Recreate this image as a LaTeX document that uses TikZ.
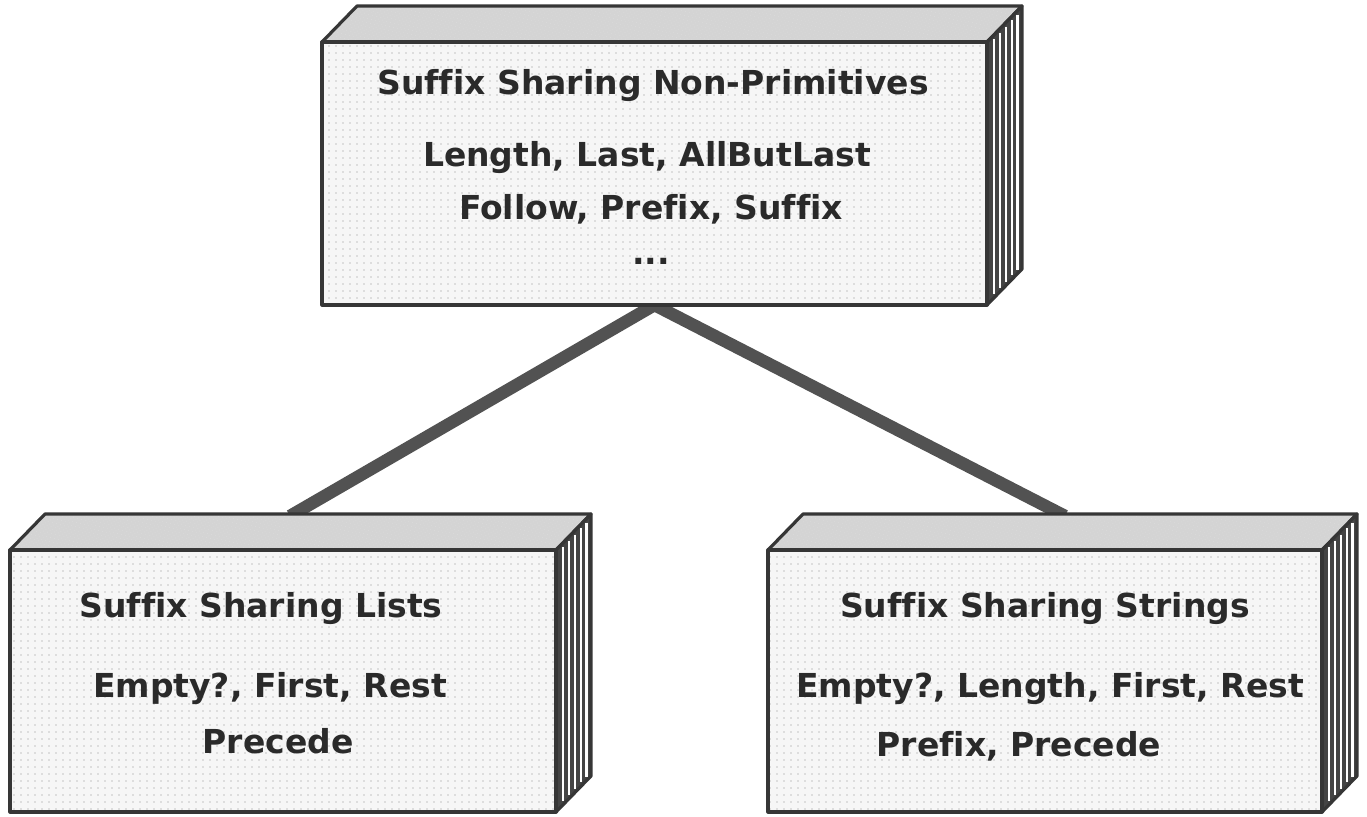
\documentclass[tikz,border=0pt]{standalone}
\usepackage{fontspec}
\setmainfont{DejaVu Sans}[Ligatures=NoCommon]
\usepackage{tikz}
\usetikzlibrary{calc,backgrounds,patterns.meta}
\definecolor{SlabEdge}{HTML}{363636}
\definecolor{SlabFront}{HTML}{F6F6F6}
\definecolor{SlabTop}{HTML}{D4D4D4}
\definecolor{SlabSide}{HTML}{444444}
\definecolor{SlabDots}{HTML}{8A8A8A}
\definecolor{LinkGray}{HTML}{525252}
\definecolor{LabelInk}{HTML}{2A2A2A}
\newcommand\slabdx{35}
\newcommand\slabdy{36}

\begin{document}
\begin{tikzpicture}[x=1pt,y=-1pt,
  edge/.style={draw=SlabEdge,line width=3.2pt,line join=round},
  frontface/.style={edge,preaction={fill=SlabFront},
    pattern={Dots[distance=7pt,radius=0.7pt]},pattern color=SlabDots},
  topface/.style={edge,preaction={fill=SlabTop},
    pattern={Dots[distance=3pt,radius=0.6pt,angle=30]},pattern color=white!85!black},
  sideface/.style={edge,fill=SlabSide},
  stripe/.style={white,line width=2.4pt},
  link/.style={LinkGray,line width=12.5pt},
  caption/.style={anchor=base,inner sep=0pt,text=LabelInk,
    font=\bfseries\fontsize{33}{38}\selectfont}]
  \useasboundingbox (0,0) rectangle (1367,816);

  % three slabs: front face, lid and striped side
  \foreach \name/\xa/\ya/\xb/\yb in {nonprim/322/42/987/305,
      lists/10/550/556/812, strings/768/550/1322/812}{
    \path[topface] (\xa,\ya) -- (\xa+\slabdx,\ya-\slabdy)
      -- (\xb+\slabdx,\ya-\slabdy) -- (\xb,\ya) -- cycle;
    \path[sideface] (\xb,\ya) -- (\xb+\slabdx,\ya-\slabdy)
      -- (\xb+\slabdx,\yb-\slabdy) -- (\xb,\yb) -- cycle;
    \foreach \t in {0.2,0.37,0.54,0.71,0.87}
      \draw[stripe] (\xb+\t*\slabdx,\ya-\t*\slabdy+4) -- (\xb+\t*\slabdx,\yb-\t*\slabdy-4);
    \path[frontface] (\xa,\ya) rectangle (\xb,\yb);
    \coordinate (\name-base) at ({(\xa+\xb)/2},\yb);
  }
  \coordinate (lists-ridge) at (290,516);
  \coordinate (strings-ridge) at (1065,516);

  \begin{scope}[on background layer]
    \draw[link] (nonprim-base) -- (lists-ridge);
    \draw[link] (nonprim-base) -- (strings-ridge);
  \end{scope}

  \node[caption] (nonprim-title) at (653,94) {Suffix Sharing Non-Primitives};
  \node[caption] (nonprim-ops1) at (647,166) {Length, Last, AllButLast};
  \node[caption] (nonprim-ops2) at (651,219) {Follow, Prefix, Suffix};
  \node[caption] (nonprim-more) at (651,264) {...};

  \node[caption] (lists-title) at (261,617) {Suffix Sharing Lists};
  \node[caption] (lists-ops1) at (270,697) {Empty?, First, Rest};
  \node[caption] (lists-ops2) at (278,753) {Precede};

  \node[caption] (strings-title) at (1045,617) {Suffix Sharing Strings};
  \node[caption] (strings-ops1) at (1050,697) {Empty?, Length, First, Rest};
  \node[caption] (strings-ops2) at (1019,756) {Prefix, Precede};
\end{tikzpicture}
\end{document}
